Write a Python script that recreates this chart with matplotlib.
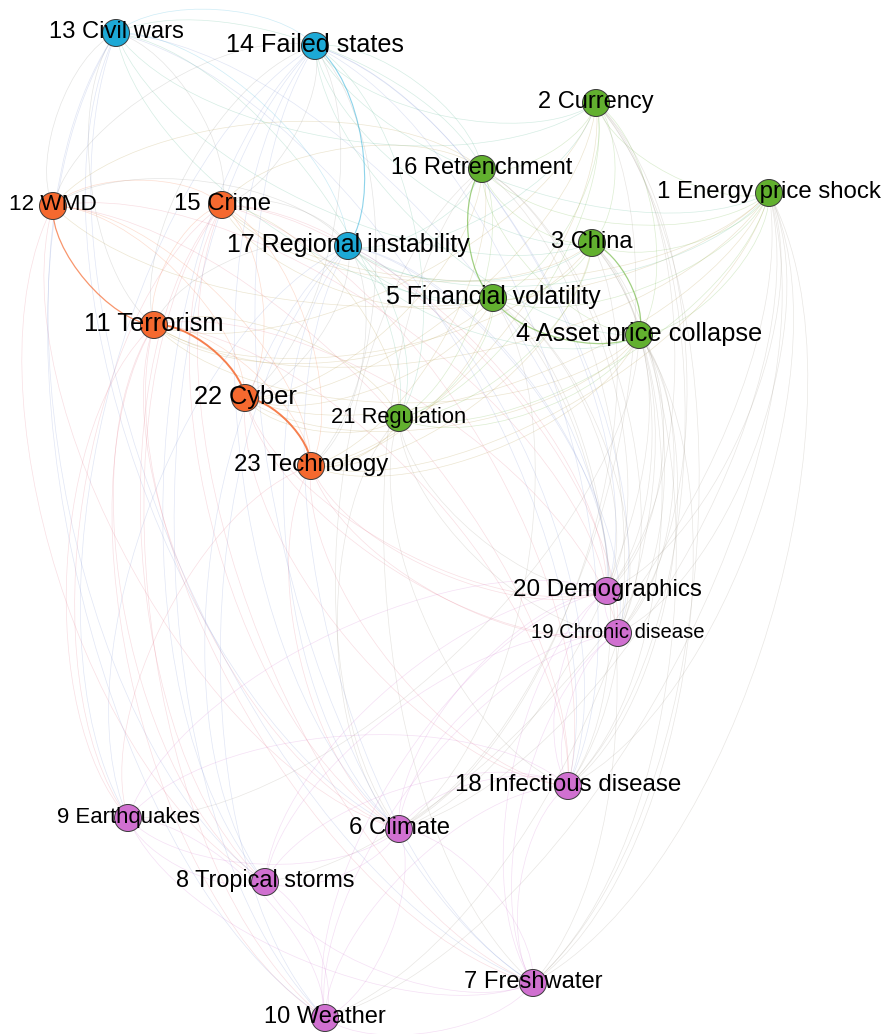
import numpy as np
import matplotlib
matplotlib.use('Agg')
import matplotlib.pyplot as plt
from matplotlib.patches import PathPatch, Circle
from matplotlib.path import Path
from matplotlib.colors import to_rgb

# Nodes: id, label, group, layout position (pixels), label size
node_ids = list(range(1, 24))
node_labels = ['1 Energy price shock', '2 Currency', '3 China', '4 Asset price collapse',
               '5 Financial volatility', '6 Climate', '7 Freshwater', '8 Tropical storms',
               '9 Earthquakes', '10 Weather', '11 Terrorism', '12 WMD', '13 Civil wars',
               '14 Failed states', '15 Crime', '16 Retrenchment', '17 Regional instability',
               '18 Infectious disease', '19 Chronic disease', '20 Demographics',
               '21 Regulation', '22 Cyber', '23 Technology']
node_group = ['econ', 'econ', 'econ', 'econ', 'econ', 'env', 'env', 'env', 'env', 'env',
              'tech', 'tech', 'geo', 'geo', 'tech', 'econ', 'geo', 'env', 'env', 'env',
              'econ', 'tech', 'tech']
layout_x = [769, 596, 592, 639, 493, 399, 533, 265, 128, 325, 154, 53, 116, 315, 222,
            482, 348, 568, 618, 607, 399, 245, 311]
layout_y = [193, 103, 243, 335, 298, 829, 983, 882, 818, 1018, 325, 206, 33, 46, 205,
            169, 246, 786, 633, 591, 418, 398, 466]
label_size = [17.3, 17, 17, 18.3, 17.9, 17.2, 17.1, 16.8, 15.9, 17, 18.4, 16.2, 17.1,
              18.1, 17.2, 17, 18, 17.4, 14.6, 17.4, 15.8, 18.3, 17.3]

group_colors = {'econ': '#62B02F', 'env': '#D070D0', 'tech': '#F5692F', 'geo': '#1DA9D6'}

# Links (source, target)
edges = [
    (1, 2), (1, 3), (1, 4), (1, 5), (1, 6), (1, 7), (1, 8), (1, 10), (1, 11),
    (1, 12), (1, 14), (1, 15), (1, 16), (1, 17), (1, 18), (1, 19), (1, 20),
    (1, 21), (1, 22), (1, 23),
    (2, 3), (2, 4), (2, 5), (2, 6), (2, 7), (2, 11), (2, 13), (2, 14), (2, 16), (2, 17),
    (2, 18), (2, 19), (2, 20), (2, 21), (2, 22), (2, 23),
    (3, 4), (3, 5), (3, 6), (3, 7), (3, 11), (3, 13), (3, 14), (3, 15), (3, 16), (3, 17),
    (3, 18), (3, 19), (3, 20), (3, 21), (3, 23),
    (4, 5), (4, 6), (4, 7), (4, 9), (4, 10), (4, 11), (4, 14), (4, 16), (4, 17), (4, 18),
    (4, 19), (4, 20), (4, 21), (4, 22), (4, 23),
    (5, 6), (5, 7), (5, 11), (5, 13), (5, 15), (5, 16), (5, 17), (5, 18), (5, 19), (5, 20),
    (5, 21), (5, 22), (5, 23),
    (6, 7), (6, 8), (6, 9), (6, 10), (6, 11), (6, 12), (6, 13), (6, 14), (6, 15), (6, 16),
    (6, 17), (6, 18), (6, 19), (6, 20), (6, 21), (6, 23),
    (7, 8), (7, 9), (7, 10), (7, 11), (7, 13), (7, 14), (7, 15), (7, 16), (7, 17), (7, 18),
    (7, 19), (7, 20),
    (8, 9), (8, 10), (8, 11), (8, 12), (8, 13), (8, 14), (8, 15), (8, 17), (8, 18), (8, 19),
    (8, 20),
    (9, 10), (9, 11), (9, 14), (9, 15), (9, 17), (9, 18), (9, 20), (9, 23),
    (10, 11), (10, 13), (10, 14), (10, 15), (10, 17), (10, 18), (10, 19), (10, 20),
    (11, 12), (11, 13), (11, 14), (11, 15), (11, 17), (11, 18), (11, 19), (11, 21),
    (11, 22), (11, 23),
    (12, 13), (12, 14), (12, 15), (12, 16), (12, 17), (12, 18), (12, 20), (12, 22), (12, 23),
    (13, 14), (13, 15), (13, 16), (13, 17), (13, 18), (13, 20), (13, 21),
    (14, 15), (14, 16), (14, 17), (14, 18), (14, 19), (14, 20), (14, 21), (14, 22), (14, 23),
    (15, 16), (15, 17), (15, 18), (15, 19), (15, 20), (15, 21), (15, 22), (15, 23),
    (16, 17), (16, 18), (16, 19), (16, 20), (16, 21), (16, 22), (16, 23),
    (17, 18), (17, 19), (17, 20), (17, 21), (17, 22), (17, 23),
    (18, 19), (18, 20), (18, 21), (18, 22), (18, 23),
    (19, 20), (19, 21), (19, 22), (19, 23),
    (20, 21), (20, 22), (20, 23),
    (21, 22), (21, 23),
    (22, 23),
]
# stronger links: (line width, opacity)
strong_edges = {(11, 22): (1.4, 0.85), (22, 23): (1.4, 0.85), (11, 12): (0.9, 0.7),
                (5, 16): (0.9, 0.6), (3, 4): (0.9, 0.6), (4, 5): (0.9, 0.55),
                (14, 17): (0.8, 0.5)}
curveness = 0.2

fig = plt.figure(figsize=(8.88, 10.34), dpi=100)
ax = fig.add_axes([0, 0, 1, 1])
ax.set_xlim(0, 888)
ax.set_ylim(1034, 0)
ax.axis('off')

pos = {n: np.array([x, y], float) for n, x, y in zip(node_ids, layout_x, layout_y)}
col = {n: group_colors[g] for n, g in zip(node_ids, node_group)}

# Faint edges first, strong ones on top; cubic curves bent clockwise
for a, b in sorted(edges, key=lambda e: e in strong_edges):
    lw, alpha = strong_edges.get((a, b), (0.5, 0.22))
    mix = tuple((np.array(to_rgb(col[a])) + np.array(to_rgb(col[b]))) / 2)
    p1, p2 = pos[a], pos[b]
    d = p2 - p1
    length = np.hypot(*d)
    u = d / length
    nrm = np.array([u[1], -u[0]])
    f = curveness * length
    c1 = p1 + f * u + f * nrm
    c2 = p2 - f * u + f * nrm
    path = Path([p1, c1, c2, p2], [Path.MOVETO, Path.CURVE4, Path.CURVE4, Path.CURVE4])
    ax.add_patch(PathPatch(path, facecolor='none', edgecolor=mix, alpha=alpha, lw=lw,
                           zorder=1))

for n in node_ids:
    ax.add_patch(Circle(pos[n], 13.5, facecolor=col[n], edgecolor='#3a3a3a',
                        lw=0.7, zorder=3))

for n, lab, fs in zip(node_ids, node_labels, label_size):
    x, y = pos[n]
    ax.text(x, y - 1, lab, ha='center', va='center', fontsize=fs,
            family=['Liberation Sans', 'DejaVu Sans'], color='black', zorder=4)

fig.savefig('out.png', dpi=100, facecolor='white')
